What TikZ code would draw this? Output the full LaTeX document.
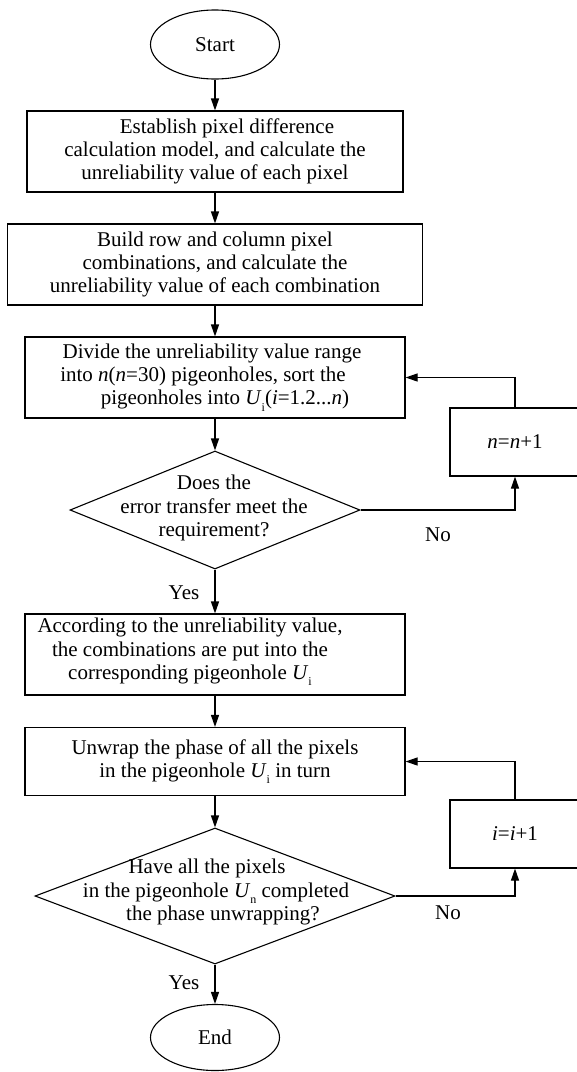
\documentclass[tikz,border=0pt]{standalone}
\usepackage{fontspec}
\setmainfont{Liberation Serif}
\usetikzlibrary{shapes.geometric,arrows.meta}
\newcommand{\lsub}[1]{\raisebox{-0.3em}{\fontsize{12}{12}\selectfont #1}}
\begin{document}
\begin{tikzpicture}[x=1pt,y=-1pt,
  every node/.style={font=\fontsize{21}{23.3}\selectfont},
  proc/.style={draw, line width=1.1pt, rectangle, inner sep=0pt, align=center},
  term/.style={draw, line width=1.1pt, ellipse, inner sep=0pt},
  dec/.style={draw, line width=1.1pt, diamond, inner sep=0pt},
  flow/.style={line width=1.1pt, -{Triangle[length=12pt,width=8pt]}},
  lab/.style={align=center, inner sep=0pt}]
\useasboundingbox (0,0) rectangle (577,1072);
\clip (0,0) rectangle (577,1072);

\node[term, minimum width=129pt, minimum height=69pt] (start) at (215,44.5) {Start};

\node[proc, minimum width=376pt, minimum height=81pt] (b1) at (215,151.5)
  {\hspace*{24pt}Establish pixel difference\\calculation model, and calculate the\\unreliability value of each pixel};

\node[proc, minimum width=415pt, minimum height=81pt] (b2) at (215,264.5)
  {Build row and column pixel\\combinations, and calculate the\\unreliability value of each combination};

\node[proc, minimum width=380pt, minimum height=81pt] (b3) at (215,377.5) {};
\node[lab] (b3t) at (212,377.5)
  {Divide the unreliability value range\\\hspace*{-18pt}into \textit{n}(\textit{n}=30) pigeonholes, sort the\\\hspace*{26pt}pigeonholes into \textit{U}\lsub{i}(\textit{i}=1.2...\textit{n})};

\node[dec, minimum width=290pt, minimum height=118pt] (d1) at (215,510) {};
\node[lab] (d1t) at (214,508) {Does the\\error transfer meet the\\requirement?};

\node[proc, minimum width=130pt, minimum height=68pt] (nb) at (515,442) {\textit{n}=\textit{n}+1};

\node[proc, minimum width=380pt, minimum height=81pt] (b4) at (215,654.5) {};
\node[lab] (b4t) at (190,652)
  {According to the unreliability value,\\the combinations are put into the\\corresponding pigeonhole \textit{U}\lsub{i}};

\node[proc, minimum width=380pt, minimum height=68pt] (b5) at (215,761.5)
  {Unwrap the phase of all the pixels\\in the pigeonhole \textit{U}\lsub{i} in turn};

\node[dec, minimum width=360pt, minimum height=136pt] (d2) at (215,896) {};
\node[lab] (d2t) at (216,892)
  {\hspace*{-18pt}Have all the pixels\\in the pigeonhole \textit{U}\lsub{n} completed\\\hspace*{14pt}the phase unwrapping?};

\node[proc, minimum width=130pt, minimum height=68pt] (ib) at (515,834) {\textit{i}=\textit{i}+1};

\node[term, minimum width=129pt, minimum height=66pt] (end) at (215,1037.5) {End};

\node[lab] (no1) at (438,535) {No};
\node[lab] (yes1) at (184,593) {Yes};
\node[lab] (no2) at (448,913) {No};
\node[lab] (yes2) at (184,983) {Yes};

\draw[flow] (start) -- (b1);
\draw[flow] (b1) -- (b2);
\draw[flow] (b2) -- (b3);
\draw[flow] (b3) -- (d1);
\draw[flow] (d1) -- (b4);
\draw[flow] (d1.east) -| (nb.south);
\draw[flow] (nb.north) |- (b3.east);
\draw[flow] (b4) -- (b5);
\draw[flow] (b5) -- (d2);
\draw[flow] (d2) -- (end);
\draw[flow] (d2.east) -| (ib.south);
\draw[flow] (ib.north) |- (b5.east);
\end{tikzpicture}
\end{document}
